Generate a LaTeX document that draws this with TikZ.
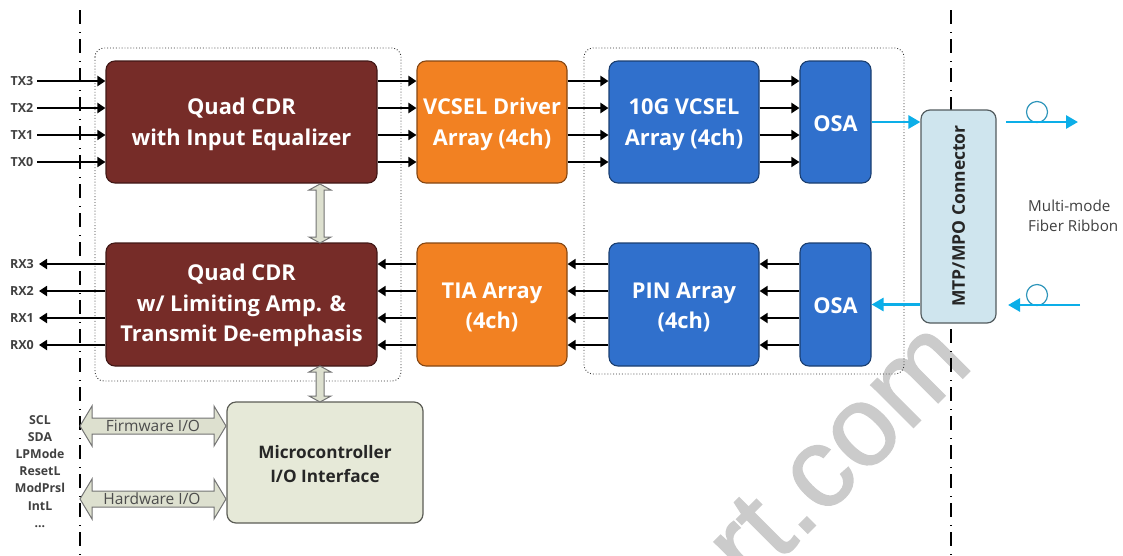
\documentclass[tikz,border=0pt]{standalone}
\usepackage{fontspec}
\setmainfont{Open Sans}
\newfontfamily\markfont[FakeBold=1.2]{Liberation Sans}
\usetikzlibrary{arrows.meta,calc}
\definecolor{cdr}{HTML}{762C28}
\definecolor{drv}{HTML}{F28122}
\definecolor{vcs}{HTML}{3070CC}
\definecolor{mtp}{HTML}{CFE5EE}
\definecolor{mcu}{HTML}{E6E9D8}
\definecolor{fib}{HTML}{0CAEE8}
\definecolor{wmgray}{HTML}{CBCBCB}
\newcommand{\lowr}{\rule{0pt}{21pt}}
\tikzset{
 box/.style={rectangle,rounded corners=9pt,draw=#1!55!black,line width=1.1pt,fill=#1,text=white,align=center,font=\fontsize{21.8}{30.5}\selectfont\bfseries,inner sep=0pt},
 lite/.style={rectangle,rounded corners=9pt,draw=#1!40!black,line width=1.2pt,fill=#1,text=black!85,align=center,inner sep=0pt},
 group/.style={draw=black!80,line width=.9pt,dash pattern=on .9pt off 2pt,rounded corners=9pt},
 bound/.style={draw=black,line width=1.5pt,dash pattern=on 14pt off 8pt on 1pt off 6pt},
 sig/.style={draw=black,line width=#1,-{Triangle[length=8pt,width=10pt]}},
 fibre/.style={draw=fib,line width=2.8pt,-{Triangle[length=12pt,width=13pt]}},
 sigtext/.style={font=\fontsize{12.5}{13}\selectfont\bfseries,text=black!75,inner sep=0pt},
 bus/.style={draw=black!55,line width=1pt,fill=mcu!96!black},
 bustext/.style={font=\fontsize{15.5}{18}\selectfont,text=black!70,inner sep=0pt}
}
\newcommand{\busV}[2]{\path[bus] ($(#1)$) -- ++(-11,6) -- ++(7,0) -- ($(#2)+(-4,-6)$) -- ++(-7,0) -- ($(#2)$) -- ++(11,-6) -- ++(-7,0) -- ($(#1)+(4,6)$) -- ++(7,0) -- cycle;}
\newcommand{\busH}[2]{\path[bus] ($(#1)$) -- ++(12,-20) -- ++(0,12) -- ($(#2)+(-12,-8)$) -- ++(0,-12) -- ($(#2)$) -- ++(-12,20) -- ++(0,-12) -- ($(#1)+(12,8)$) -- ++(0,12) -- cycle;}
\begin{document}
\begin{tikzpicture}[x=1pt,y=-1pt]
\useasboundingbox (0,0) rectangle (1123,555);
% watermark
\node[rotate=45,anchor=base west,text=wmgray,font=\fontsize{114}{114}\selectfont\markfont,inner sep=0pt] (wm) at (751,590) {rt.com};
% boundaries
\coordinate (b1a) at (80,10); \coordinate (b1b) at (80,555);
\coordinate (b2a) at (951,10); \coordinate (b2b) at (951,555);
\draw[bound] (b1a) -- (b1b);
\draw[bound] (b2a) -- (b2b);
% groups
\draw[group] (95,48) rectangle (401,381);
\draw[group] (584,48) rectangle (904,374);
% boxes
\node[box=cdr,minimum width=271pt,minimum height=122pt] (cdrT) at (241.5,122) {\lowr Quad CDR\\with Input Equalizer};
\node[box=cdr,minimum width=271pt,minimum height=123pt] (cdrB) at (241.5,304.5) {\rule{0pt}{19pt}Quad CDR\\w/ Limiting Amp. \&\\Transmit De-emphasis};
\node[box=drv,minimum width=150pt,minimum height=122pt] (drvT) at (492,122) {\lowr VCSEL Driver\\Array (4ch)};
\node[box=drv,minimum width=150pt,minimum height=123pt] (tia) at (492,304.5) {\lowr TIA Array\\(4ch)};
\node[box=vcs,minimum width=150pt,minimum height=122pt] (vcsel) at (684,122) {\lowr 10G VCSEL\\Array (4ch)};
\node[box=vcs,minimum width=150pt,minimum height=123pt] (pin) at (684,304.5) {\lowr PIN Array\\(4ch)};
\node[box=vcs,minimum width=71pt,minimum height=122pt] (osaT) at (835.5,122) {\rule{0pt}{19pt}OSA};
\node[box=vcs,minimum width=71pt,minimum height=123pt] (osaB) at (835.5,304.5) {\rule{0pt}{19pt}OSA};
\node[lite=mtp,minimum width=75pt,minimum height=213pt] (mtpb) at (958.5,216.5) {};
\node[rotate=90,font=\fontsize{17.5}{20}\selectfont\bfseries,text=black!85,inner sep=0pt] (mtpt) at (958.5,216) {MTP/MPO Connector};
\node[lite=mcu,minimum width=196pt,minimum height=121pt,font=\fontsize{17.2}{24}\selectfont\bfseries] (micro) at (325,462.5) {\rule{0pt}{15.5pt}Microcontroller\\I/O Interface};
% signal labels
\foreach \n/\y in {TX3/81,TX2/108,TX1/135,TX0/162}{\node[sigtext,anchor=east] (l\n) at (33.5,\y) {\n};}
\foreach \n/\y in {RX3/264,RX2/291,RX1/318,RX0/345}{\node[sigtext,anchor=east] (l\n) at (34,\y) {\n};}
% TX lines
\foreach \n/\d/\w in {TX3/-41/2.4pt,TX2/-14/2.4pt,TX1/13/1.5pt,TX0/40/1.5pt}{
 \draw[sig=\w] (l\n.east) ++(3.5,0) -- ($(cdrT.west)+(0,\d)$);
 \draw[sig=\w] ($(cdrT.east)+(0,\d)$) -- ($(drvT.west)+(0,\d)$);
 \draw[sig=\w] ($(drvT.east)+(0,\d)$) -- ($(vcsel.west)+(0,\d)$);
 \draw[sig=\w] ($(vcsel.east)+(0,\d)$) -- ($(osaT.west)+(0,\d)$);
}
% RX lines
\foreach \n/\d in {RX3/-40.5,RX2/-13.5,RX1/13.5,RX0/40.5}{
 \draw[sig=1.8pt] ($(cdrB.west)+(0,\d)$) -- ($(l\n.east)+(5,0)$);
 \draw[sig=1.8pt] ($(tia.west)+(0,\d)$) -- ($(cdrB.east)+(0,\d)$);
 \draw[sig=1.8pt] ($(pin.west)+(0,\d)$) -- ($(tia.east)+(0,\d)$);
 \draw[sig=1.8pt] ($(osaB.west)+(0,\d)$) -- ($(pin.east)+(0,\d)$);
}
% optical
\coordinate (fo1) at (1006,122); \coordinate (fo2) at (1078,122);
\coordinate (fi1) at (1080,305); \coordinate (fi2) at (1008,305);
\draw[fib!75!black!85,line width=1.2pt] (1037,112) circle (10.5);
\draw[fib!75!black!85,line width=1.2pt] (1037,295) circle (10.5);
\draw[fibre] (osaT.east) -- (mtpb.west |- osaT.east);
\draw[fibre] (mtpb.west |- osaB.east) -- (osaB.east);
\draw[fibre] (fo1) -- (fo2);
\draw[fibre] (fi1) -- (fi2);
\node[font=\fontsize{15.2}{20}\selectfont,text=black!75,align=left,inner sep=0pt,anchor=west] (fibre) at (1028,216) {Multi-mode\\Fiber Ribbon};
% buses
\coordinate (bA) at (320,184); \coordinate (bB) at (320,243);
\coordinate (bC) at (320,366); \coordinate (bD) at (320,402);
\busV{bA}{bB}
\busV{bC}{bD}
\coordinate (fw1) at (80,426); \coordinate (fw2) at (226,426);
\coordinate (hw1) at (80,499); \coordinate (hw2) at (226,499);
\busH{fw1}{fw2}
\busH{hw1}{hw2}
\node[bustext] (fwt) at (153,426) {Firmware I/O};
\node[bustext] (hwt) at (152,499) {Hardware I/O};
% pin list
\node[font=\fontsize{12.3}{17.2}\selectfont\bfseries,text=black!75,align=center,inner sep=0pt,anchor=north] (pins) at (40,415) {SCL\\SDA\\LPMode\\ResetL\\ModPrsl\\IntL\\...};
\end{tikzpicture}
\end{document}
